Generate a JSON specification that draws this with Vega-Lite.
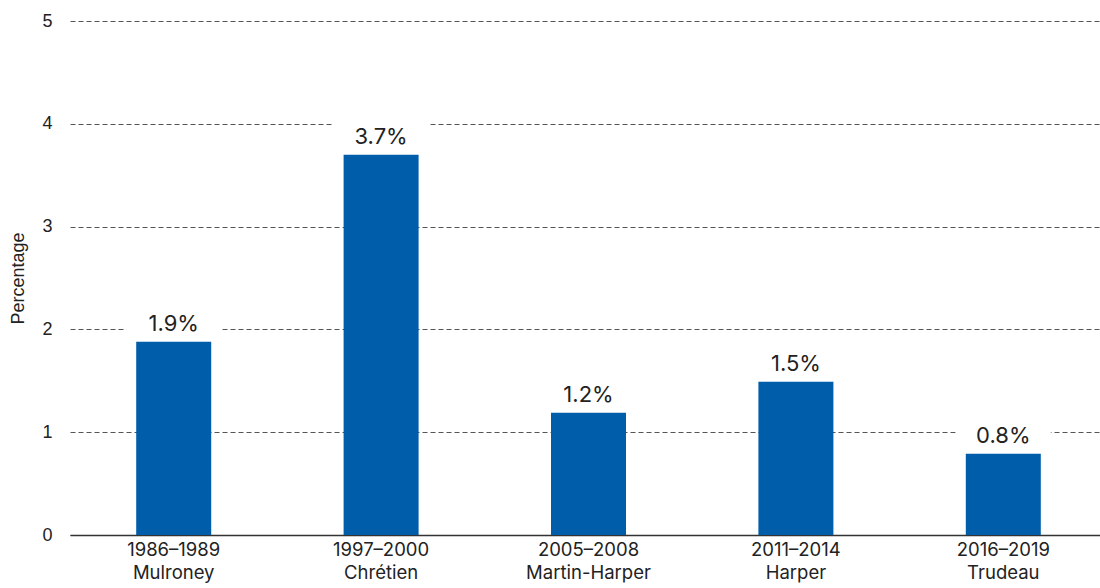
{
  "$schema": "https://vega.github.io/schema/vega-lite/v6.json",
  "width": 1037,
  "height": 514,
  "autosize": {"type": "none"},
  "padding": {"left": 70, "top": 21, "right": 0, "bottom": 53},
  "background": "white",
  "data": {
    "values": [
      {"period": "1986–1989|Mulroney", "value": 1.88, "label": "1.9%"},
      {"period": "1997–2000|Chrétien", "value": 3.7, "label": "3.7%"},
      {"period": "2005–2008|Martin-Harper", "value": 1.19, "label": "1.2%"},
      {"period": "2011–2014|Harper", "value": 1.49, "label": "1.5%"},
      {"period": "2016–2019|Trudeau", "value": 0.79, "label": "0.8%"}
    ]
  },
  "config": {
    "view": {"stroke": null},
    "font": "Liberation Sans",
    "axis": {"labelColor": "#222", "titleColor": "#222"}
  },
  "encoding": {
    "x": {
      "field": "period",
      "type": "nominal",
      "sort": null,
      "scale": {"paddingInner": 0, "paddingOuter": 0},
      "axis": {
        "title": null,
        "labelAngle": 0,
        "labelExpr": "split(datum.value, '|')",
        "labelFontSize": 18.5,
        "labelColor": "#222",
        "labelLineHeight": 23,
        "labelPadding": 5,
        "ticks": false,
        "domainColor": "#333",
        "domainWidth": 1.5,
        "grid": false,
        "labelFont": "Inter"
      }
    },
    "y": {
      "field": "value",
      "type": "quantitative",
      "scale": {"domain": [0, 5], "nice": false},
      "axis": {
        "title": "Percentage",
        "titleFontSize": 18,
        "titleFontWeight": "normal",
        "titleColor": "#222",
        "titlePadding": 14,
        "values": [0, 1, 2, 3, 4, 5],
        "format": "d",
        "labelFontSize": 18,
        "labelColor": "#222",
        "labelPadding": 18,
        "ticks": false,
        "domain": false,
        "grid": true,
        "gridColor": "#555",
        "gridDash": [5, 3],
        "gridWidth": 1
      }
    }
  },
  "layer": [
    {
      "mark": {"type": "bar", "width": 75, "color": "#005DAA"}
    },
    {
      "mark": {
        "type": "point",
        "shape": "M-1,-0.3H1V0.3H-1Z",
        "filled": true,
        "color": "white",
        "opacity": 1,
        "size": 9025,
        "yOffset": -17
      }
    },
    {
      "mark": {
        "type": "text",
        "baseline": "bottom",
        "dy": -6,
        "fontSize": 22,
        "fontWeight": "normal",
        "font": "Inter",
        "color": "#222"
      },
      "encoding": {"text": {"field": "label"}}
    }
  ]
}
